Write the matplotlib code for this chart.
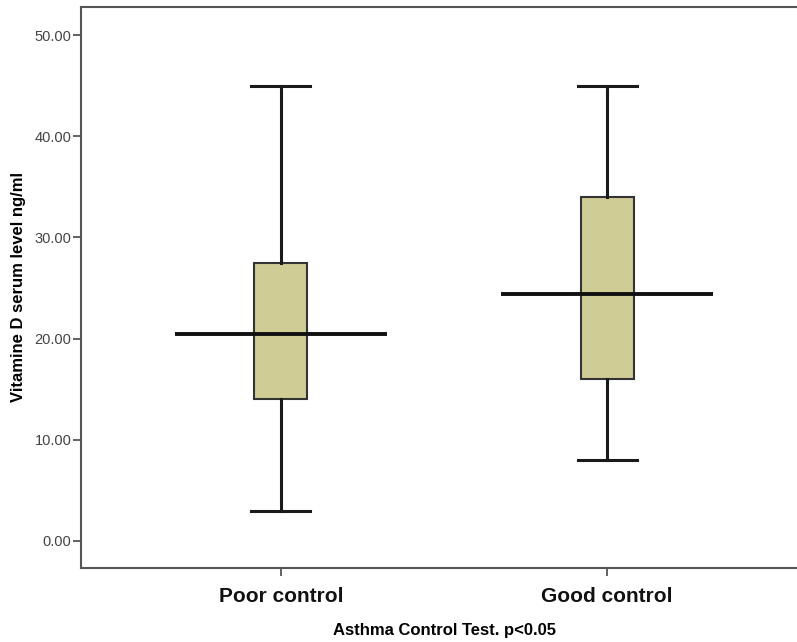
import matplotlib.pyplot as plt

plt.rcParams["font.family"] = ["Liberation Sans", "DejaVu Sans"]

groups = ["Poor control", "Good control"]
whisker_low = [3.0, 8.0]
q1 = [14.0, 16.0]
median = [20.5, 24.4]
q3 = [27.5, 34.0]
whisker_high = [45.0, 45.0]

yticks = [0, 10, 20, 30, 40, 50]

stats = [
    {"label": g, "whislo": lo, "q1": a, "med": m, "q3": b, "whishi": hi}
    for g, lo, a, m, b, hi in zip(groups, whisker_low, q1, median, q3, whisker_high)
]
positions = [1, 2]

fig = plt.figure(figsize=(7.97, 6.42), dpi=100)
# right edge runs past the figure, so the right spine is cut off
ax = fig.add_axes([81 / 797, 1 - 568 / 642, 726 / 797, 561 / 642])

ax.bxp(
    stats,
    positions=positions,
    widths=0.163,
    capwidths=0.18,
    showfliers=False,
    patch_artist=True,
    boxprops=dict(facecolor="#d0cc96", edgecolor="#333333", linewidth=1.5),
    whiskerprops=dict(color="#1a1a1a", linewidth=2.2),
    capprops=dict(color="#1a1a1a", linewidth=2.2),
    medianprops=dict(linewidth=0),
)
# SPSS-style median line wider than the box
ax.hlines(median, [p - 0.325 for p in positions], [p + 0.325 for p in positions],
          colors="#111111", linewidth=2.8, zorder=5)

ax.set_xlim(1 - 200 / 326.5, 2 + 200 / 326.5)
ax.set_ylim(-2.67, 52.77)
ax.set_yticks(yticks)
ax.set_yticklabels([f"{t:.2f}" for t in yticks], fontsize=10.5, color="#444444")
ax.set_xticks(positions)
ax.set_xticklabels(groups, fontsize=15, fontweight="bold", color="#111111")

ax.tick_params(axis="y", length=6, width=1.3, color="#555555", pad=1)
ax.tick_params(axis="x", length=6, width=1.3, color="#555555", pad=8)
for side in ["left", "bottom", "top", "right"]:
    ax.spines[side].set_color("#555555")
    ax.spines[side].set_linewidth(1.5)

ax.set_ylabel("Vitamine D serum level ng/ml", fontsize=12, fontweight="bold", labelpad=6)
ax.set_xlabel("Asthma Control Test. p<0.05", fontsize=12, fontweight="bold",
              va="center")
ax.xaxis.set_label_coords((445 - 81) / 726, -(630 - 568) / 561)

fig.savefig("out.png", dpi=100)
